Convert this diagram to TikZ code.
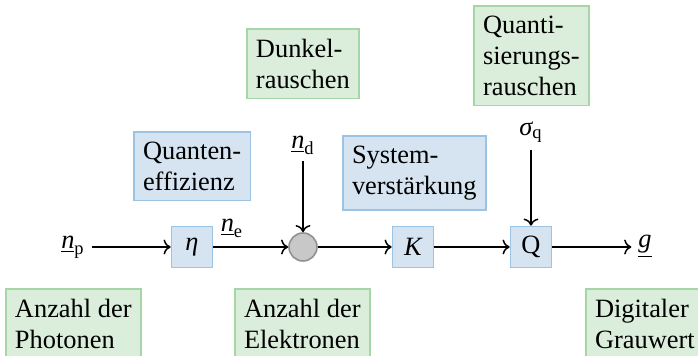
\documentclass[tikz,border=0pt]{standalone}
\usepackage{fontspec}
\setmainfont{Liberation Serif}
\usepackage{amsmath}
\usetikzlibrary{arrows.meta}
\definecolor{blockfill}{RGB}{214,228,241}
\definecolor{blockline}{RGB}{157,195,228}
\definecolor{notefill}{RGB}{219,237,219}
\definecolor{noteline}{RGB}{166,214,166}
\definecolor{sumfill}{RGB}{200,200,200}
\definecolor{sumline}{RGB}{145,145,145}
\newcommand\iv[1]{\text{\itshape #1}}
\begin{document}
\begin{tikzpicture}[x=0.5pt,y=-0.5pt,
  every node/.style={font=\fontsize{13.2}{15.5}\selectfont},
  blk/.style={draw=blockline, fill=blockfill, line width=0.8pt, minimum size=20.5pt, inner sep=0pt},
  info/.style={draw=blockline, fill=blockfill, line width=0.8pt, align=left, inner xsep=4.6pt, inner ysep=5pt, anchor=north west},
  note/.style={draw=noteline, fill=notefill, line width=0.8pt, align=left, inner xsep=4.6pt, inner ysep=5pt, anchor=north west},
  sig/.style={-{To[scale=1.1]}, line width=0.75pt}
]
\clip (0,0) rectangle (698,356);

% signal chain
\node[blk] (eta) at (192,247) {\iv{η}};
\node[circle, draw=sumline, fill=sumfill, line width=0.8pt, minimum size=14pt, inner sep=0pt] (sum) at (303,247) {};
\node[blk] (K) at (413,247) {\iv{K}};
\node[blk] (Q) at (531,247) {Q};

% signal labels
\node (np) at (73,247) {$\underline{\iv{n}}_{\text{p}}$};
\node (g) at (645,247) {$\underline{\iv{g}}$};
\node (ne) at (232,228) {$\underline{\iv{n}}_{\text{e}}$};
\node (nd) at (303,145) {$\underline{\iv{n}}_{\text{d}}$};
\node (sq) at (531,132) {$\iv{σ}_{\text{q}}$};

% descriptions
\node[note] (dark) at (246,28) {Dunkel-\\rauschen};
\node[note] (qnoise) at (473,5) {Quanti-\\sierungs-\\rauschen};
\node[info] (qe) at (133,131) {Quanten-\\effizienz};
\node[info] (gain) at (342,135) {System-\\verstärkung};
\node[note] (photons) at (5,288) {Anzahl der\\Photonen};
\node[note] (electrons) at (234,288) {Anzahl der\\Elektronen};
\node[note] (grey) at (585,288) {Digitaler\\Grauwert};

% connectors
\draw[sig] (np) -- (eta);
\draw[sig] (eta) -- (sum);
\draw[sig] (sum) -- (K);
\draw[sig] (K) -- (Q);
\draw[sig] (Q) -- (g);
\draw[sig] (nd) -- (sum);
\draw[sig] (sq) -- (Q);
\end{tikzpicture}
\end{document}
